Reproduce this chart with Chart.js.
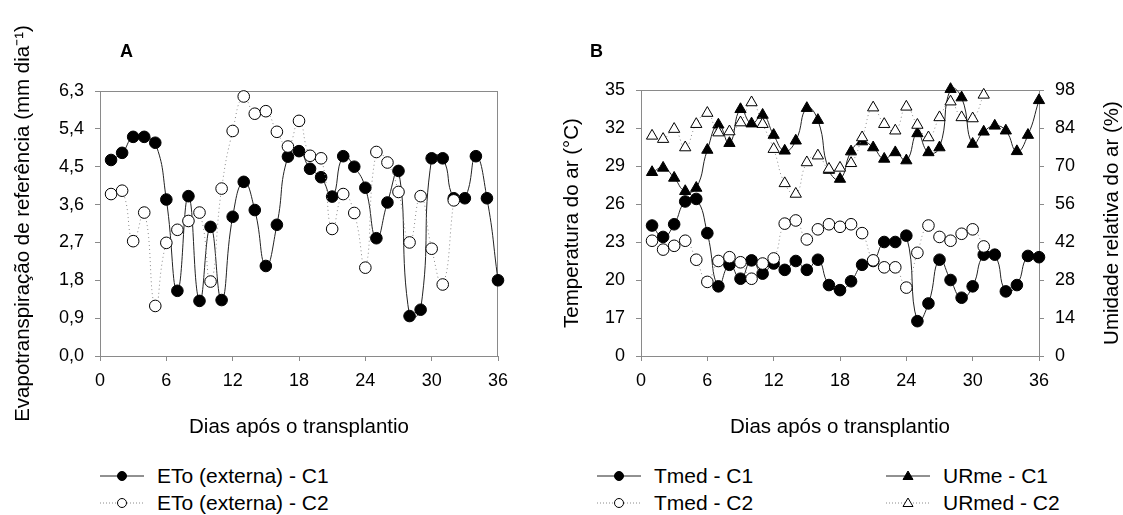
<!DOCTYPE html>
<html><head><meta charset="utf-8">
<script src="https://cdn.jsdelivr.net/npm/chart.js@4"></script>
<style>
body{margin:0;background:#fff;width:1123px;height:515px;overflow:hidden;position:relative;font-family:"Liberation Sans",Arial,sans-serif;color:#000;}
#wa{position:absolute;left:0;top:0;width:540px;height:440px;}
#wb{position:absolute;left:540px;top:0;width:583px;height:440px;}
.lbl{position:absolute;font-weight:bold;font-size:18px;line-height:18px;}
.leg{position:absolute;font-size:21px;line-height:24px;height:24px;display:flex;align-items:center;white-space:nowrap;}
.leg svg{margin-right:13px;}
</style></head><body>
<div id="wa"><canvas id="ca"></canvas></div>
<div id="wb"><canvas id="cb"></canvas></div>
<div class="lbl" style="left:120px;top:42px">A</div>
<div class="lbl" style="left:590px;top:42px">B</div>
<div id="legends"></div>
<script>
// ---------- data ----------
const days = [1,2,3,4,5,6,7,8,9,10,11,12,13,14,15,16,17,18,19,20,21,22,23,24,25,26,27,28,29,30,31,32,33,34,35,36];
const etoC1 = [4.66,4.83,5.21,5.21,5.07,3.72,1.55,3.80,1.31,3.07,1.33,3.31,4.14,3.47,2.14,3.12,4.74,4.87,4.45,4.25,3.79,4.75,4.50,4.00,2.80,3.65,4.40,0.95,1.10,4.70,4.70,3.75,3.75,4.75,3.75,1.80];
const etoC2 = [3.85,3.93,2.73,3.41,1.19,2.69,3.00,3.21,3.41,1.77,3.98,5.35,6.17,5.76,5.82,5.33,4.98,5.59,4.76,4.70,3.02,3.85,3.40,2.10,4.85,4.60,3.90,2.70,3.80,2.55,1.70,3.70];
const tmedC1 = [24.3,23.4,24.4,26.2,26.4,23.7,19.5,21.2,20.1,21.55,20.5,21.3,20.8,21.5,20.8,21.6,19.6,19.2,19.9,21.2,21.5,23.0,23.0,23.5,16.75,18.15,21.6,20.0,18.6,19.5,22.0,22.0,19.1,19.6,21.9,21.8];
const tmedC2 = [23.1,22.4,22.7,23.1,21.6,19.85,21.5,21.8,21.4,20.1,21.3,21.7,24.45,24.7,23.2,24.0,24.4,24.2,24.4,23.7,21.55,21.0,21.0,19.4,22.15,24.3,23.4,23.1,23.65,24.0,22.65];
const urC1 = [67.7,69.3,65.6,60.7,61.9,75.9,85.2,78.4,90.9,85.6,88.8,81.4,75.6,79.3,91.3,86.9,68.5,65.2,75.3,79.0,76.8,72.6,75.0,72.0,82.0,75.0,76.8,98.3,95.2,78.1,82.6,84.8,83.0,75.4,81.4,94.2];
const urC2 = [81.1,79.9,83.6,76.8,85.4,89.5,82.3,82.7,86.0,93.4,85.4,76.2,63.6,59.7,71.3,73.8,68.9,69.3,71.0,80.5,91.5,85.4,83.0,91.8,85.1,80.5,87.9,93.7,87.9,87.5,96.2];
const xTicks = [0,6,12,18,24,30,36];
const yTicksA = [0,0.9,1.8,2.7,3.6,4.5,5.4,6.3];
const yTicksT = [14,17,20,23,26,29,32,35];
const yTickLabelsT = ['0','17','20','23','26','29','32','35'];
const yTicksU = [0,14,28,42,56,70,84,98];

// ---------- styling ----------
const FF = '"Liberation Sans", Arial, sans-serif';
const AX = '#8a8a8a';
const TS = 20.5;
const pts = arr => arr.map((v,i)=>({x:days[i], y:v}));
const setTicks = list => (s => { s.ticks = list.map(v=>({value:v})); });

function xAxis(){
  return {type:'linear',min:0,max:36,
    afterBuildTicks:setTicks(xTicks),
    ticks:{color:'#000',font:{size:18,family:FF},padding:9,maxRotation:0,autoSkip:false},
    grid:{drawOnChartArea:false,drawTicks:true,tickLength:5,color:AX},
    border:{color:AX,width:1},
    title:{display:true,text:'Dias após o transplantio',color:'#000',font:{size:TS,family:FF},padding:{top:0,bottom:0}},
    afterFit(s){s.height=84;}};
}
function yAxis(pos,min,max,list,cb,title,width,tpad){
  return {type:'linear',position:pos,min:min,max:max,
    afterBuildTicks:setTicks(list),
    ticks:{color:'#000',font:{size:18,family:FF},padding:11,autoSkip:false,callback:cb},
    grid:{drawOnChartArea:false,drawTicks:true,tickLength:5,color:AX},
    border:{color:AX,width:1},
    title:{display:!!title,text:title||'',color:'#000',font:{size:TS,family:FF},padding:{top:tpad,bottom:0}},
    afterFit(s){s.width=width;}};
}
const frame = (right) => ({id:'frame',beforeDatasetsDraw(c){
  const a=c.chartArea, x=c.ctx; x.save(); x.strokeStyle=AX; x.lineWidth=1;
  x.beginPath(); x.moveTo(a.left,a.top+0.5); x.lineTo(a.right,a.top+0.5);
  if(right){x.moveTo(a.right-0.5,a.top); x.lineTo(a.right-0.5,a.bottom);}
  x.stroke(); x.restore();}});
const rightTitle = {id:'rtitle',afterDraw(c){
  const a=c.chartArea, x=c.ctx; x.save();
  x.translate(c.width-11,(a.top+a.bottom)/2); x.rotate(-Math.PI/2);
  x.textAlign='center'; x.textBaseline='middle'; x.fillStyle='#000';
  x.font = TS+'px '+FF; x.fillText('Umidade relativa do ar (%)',0,0); x.restore();}};

function ds(data,axis,filled,style,order){
  return {data:data,yAxisID:axis,order:order,clip:false,
    borderColor: filled ? '#222' : '#8a8a8a', borderWidth:1,
    borderDash: filled ? [] : [1,3],
    tension:0.5, fill:false,
    pointStyle:style, pointRadius: style==='triangle'?6.5:5.8,
    pointBackgroundColor: filled ? '#000' : '#fff',
    pointBorderColor:'#000', pointBorderWidth:1};
}
const common = {responsive:true,maintainAspectRatio:false,animation:false,
  plugins:{legend:{display:false},tooltip:{enabled:false}},events:[]};

new Chart(document.getElementById('ca'),{type:'line',
  data:{datasets:[ds(pts(etoC1),'y',true,'circle',1),ds(pts(etoC2),'y',false,'circle',0)]},
  options:Object.assign({},common,{layout:{padding:{left:0,right:42,top:91,bottom:0}},
    scales:{x:xAxis(),
      y:yAxis('left',0,6.3,yTicksA,v=>Number(v).toFixed(1).replace('.',','),'Evapotranspiração de referência (mm dia⁻¹)',100,11)}}),
  plugins:[frame(true)]});

new Chart(document.getElementById('cb'),{type:'line',
  data:{datasets:[
    ds(pts(tmedC1),'yT',true,'circle',3),ds(pts(tmedC2),'yT',false,'circle',2),
    ds(pts(urC1),'yU',true,'triangle',1),ds(pts(urC2),'yU',false,'triangle',0)]},
  options:Object.assign({},common,{layout:{padding:{left:0,right:0,top:90,bottom:0}},
    scales:{x:xAxis(),
      yT:yAxis('left',14,35,yTicksT,(v)=>yTickLabelsT[yTicksT.indexOf(v)],'Temperatura do ar (°C)',101,20.5),
      yU:yAxis('right',0,98,yTicksU,v=>String(v),null,84,0)}}),
  plugins:[frame(false),rightTitle]});

// ---------- legends ----------
const legItems = [
  {x:100,y:464,t:'ETo (externa) - C1',f:true,s:'c'},
  {x:100,y:491,t:'ETo (externa) - C2',f:false,s:'c'},
  {x:597,y:464,t:'Tmed - C1',f:true,s:'c'},
  {x:597,y:491,t:'Tmed - C2',f:false,s:'c'},
  {x:886,y:464,t:'URme - C1',f:true,s:'t'},
  {x:886,y:491,t:'URmed - C2',f:false,s:'t'}];
const L = document.getElementById('legends');
legItems.forEach(it=>{
  const d=document.createElement('div'); d.className='leg'; d.style.left=it.x+'px'; d.style.top=it.y+'px';
  const line = it.f ? '<line x1="0" y1="8" x2="44" y2="8" stroke="#222" stroke-width="1"/>'
                    : '<line x1="0" y1="8" x2="44" y2="8" stroke="#8a8a8a" stroke-width="1" stroke-dasharray="1,2"/>';
  const fill = it.f ? '#000':'#fff';
  const mk = it.s==='c' ? `<circle cx="22" cy="8" r="4.5" fill="${fill}" stroke="#000" stroke-width="1"/>`
                        : `<polygon points="22,3 27,11.5 17,11.5" fill="${fill}" stroke="#000" stroke-width="1"/>`;
  d.innerHTML = `<svg width="44" height="16">${line}${mk}</svg><span>${it.t}</span>`;
  L.appendChild(d);
});
</script>
</body></html>
